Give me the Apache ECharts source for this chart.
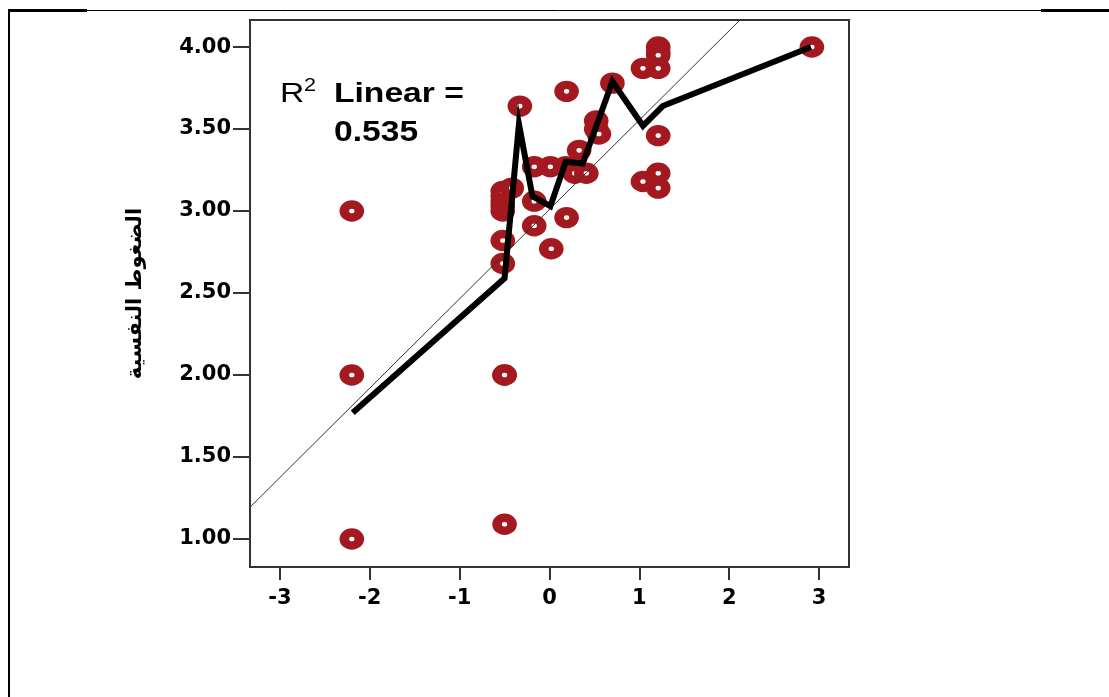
<!DOCTYPE html>
<html>
<head>
<meta charset="utf-8">
<script src="https://cdn.jsdelivr.net/npm/echarts@6/dist/echarts.min.js"></script>
<style>
  html, body { margin: 0; padding: 0; background: #fff; }
  #chart { width: 1109px; height: 697px; }
</style>
</head>
<body>
<div id="chart"></div>
<script>
// scatter points: [x, y]
const pointsX = [-2.20, -2.20, -2.20, -0.50, -0.50, -0.50,
  -0.52, -0.52, -0.52, -0.52, -0.52, -0.52, -0.52, -0.42, -0.33,
  -0.17, 0.01, 0.18, -0.17, -0.17, 0.02, 0.19,
  0.33, 0.28, 0.41, 0.52, 0.52, 0.55, 0.19, 0.70,
  1.04, 1.21, 1.21, 1.21, 1.21, 1.21, 1.04, 1.21, 1.21, 2.92]
const pointsY = [3.00, 2.00, 1.00, 2.00, 2.00, 1.09,
  2.68, 2.82, 3.00, 3.03, 3.06, 3.09, 3.12, 3.14, 3.64,
  3.27, 3.27, 3.27, 3.06, 2.91, 2.77, 2.96,
  3.37, 3.23, 3.23, 3.55, 3.50, 3.47, 3.73, 3.78,
  3.87, 3.87, 4.00, 3.97, 3.95, 3.46, 3.18, 3.23, 3.14, 4.00]

// smoothed (thick) line nodes
const smoothX = [-2.19, -0.50, -0.34, -0.19, 0.01, 0.18, 0.37, 0.70, 1.04, 1.26, 2.91]
const smoothY = [1.77, 2.59, 3.53, 3.09, 3.03, 3.30, 3.29, 3.79, 3.52, 3.64, 4.00]

// linear fit, R2 = 0.535
const fitIntercept = 3.01
const fitSlope = 0.545
const rSquared = "0.535"

const xMin = -3.333, xMax = 3.333
const yMin = 0.829, yMax = 4.165
const xTicks = [-3, -2, -1, 0, 1, 2, 3]
const yTicks = [1.0, 1.5, 2.0, 2.5, 3.0, 3.5, 4.0]
const yTitle = "الضغوط النفسية"

let myChart = echarts.init(document.getElementById("chart"))

const axisColor = "#333"

myChart.setOption({
  backgroundColor: "#fff",
  animation: false,
  grid: {
    left: 250,
    right: 260,
    top: 20,
    bottom: 130,
    show: true,
    borderColor: axisColor,
    borderWidth: 2,
  },
  xAxis: {
    type: "value",
    min: xMin,
    max: xMax,
    splitLine: { show: false },
    axisLine: { onZero: false, lineStyle: { color: axisColor, width: 2 } },
    axisTick: {
      show: true,
      customValues: xTicks,
      length: 13,
      lineStyle: { color: "#333", width: 2 },
    },
    axisLabel: {
      customValues: xTicks,
      margin: 21,
      fontFamily: "DejaVu Sans",
      fontWeight: "bold",
      fontSize: 21,
      color: "#000",
    },
  },
  yAxis: {
    type: "value",
    min: yMin,
    max: yMax,
    name: yTitle,
    nameLocation: "middle",
    nameRotate: 90,
    nameGap: 104,
    nameTextStyle: {
      fontFamily: "DejaVu Sans",
      fontWeight: "bold",
      fontSize: 21,
      color: "#000",
    },
    splitLine: { show: false },
    axisLine: { onZero: false, lineStyle: { color: axisColor, width: 2 } },
    axisTick: {
      show: true,
      customValues: yTicks,
      length: 17,
      lineStyle: { color: axisColor, width: 2 },
    },
    axisLabel: {
      customValues: yTicks,
      margin: 19,
      formatter: (v) => v.toFixed(2),
      fontFamily: "DejaVu Sans",
      fontWeight: "bold",
      fontSize: 21,
      color: "#000",
    },
  },
  series: [
    {
      type: "scatter",
      data: pointsX.map((x, i) => [x, pointsY[i]]),
      symbol: "circle",
      symbolSize: [15, 13],
      itemStyle: { color: "#fff", borderColor: "#a3191f", borderWidth: 9, opacity: 1 },
      emphasis: { disabled: true },
      z: 2,
    },
    {
      type: "line",
      data: [xMin, xMax].map((x) => [x, fitIntercept + fitSlope * x]),
      symbol: "none",
      clip: true,
      lineStyle: { color: "#333", width: 1 },
      z: 3,
    },
    {
      type: "line",
      data: smoothX.map((x, i) => [x, smoothY[i]]),
      symbol: "none",
      lineStyle: { color: "#000", width: 6, join: "miter" },
      z: 4,
    },
  ],
  graphic: [
    // page frame
    { type: "line", shape: { x1: 8, y1: 10.5, x2: 1109, y2: 10.5 }, style: { stroke: "#000", lineWidth: 1 } },
    { type: "line", shape: { x1: 8, y1: 10.5, x2: 87, y2: 10.5 }, style: { stroke: "#000", lineWidth: 3 } },
    { type: "line", shape: { x1: 1041, y1: 10.5, x2: 1109, y2: 10.5 }, style: { stroke: "#000", lineWidth: 3 } },
    { type: "line", shape: { x1: 9, y1: 9, x2: 9, y2: 697 }, style: { stroke: "#000", lineWidth: 2 } },
    // R2 annotation
    {
      type: "text", x: 280, y: 108, scaleX: 1.2,
      style: { text: "R", font: "normal 28px 'Liberation Sans'", fill: "#000", verticalAlign: "bottom" },
    },
    {
      type: "text", x: 304, y: 77, scaleX: 1.2,
      style: { text: "2", font: "normal 18px 'Liberation Sans'", fill: "#000", verticalAlign: "top" },
    },
    {
      type: "text", x: 334, y: 108, scaleX: 1.2,
      style: { text: "Linear =", font: "bold 28px 'Liberation Sans'", fill: "#000", verticalAlign: "bottom" },
    },
    {
      type: "text", x: 334, y: 147, scaleX: 1.16,
      style: { text: rSquared, font: "bold 29px 'Liberation Sans'", fill: "#000", verticalAlign: "bottom" },
    },
  ],
})
</script>
</body>
</html>
